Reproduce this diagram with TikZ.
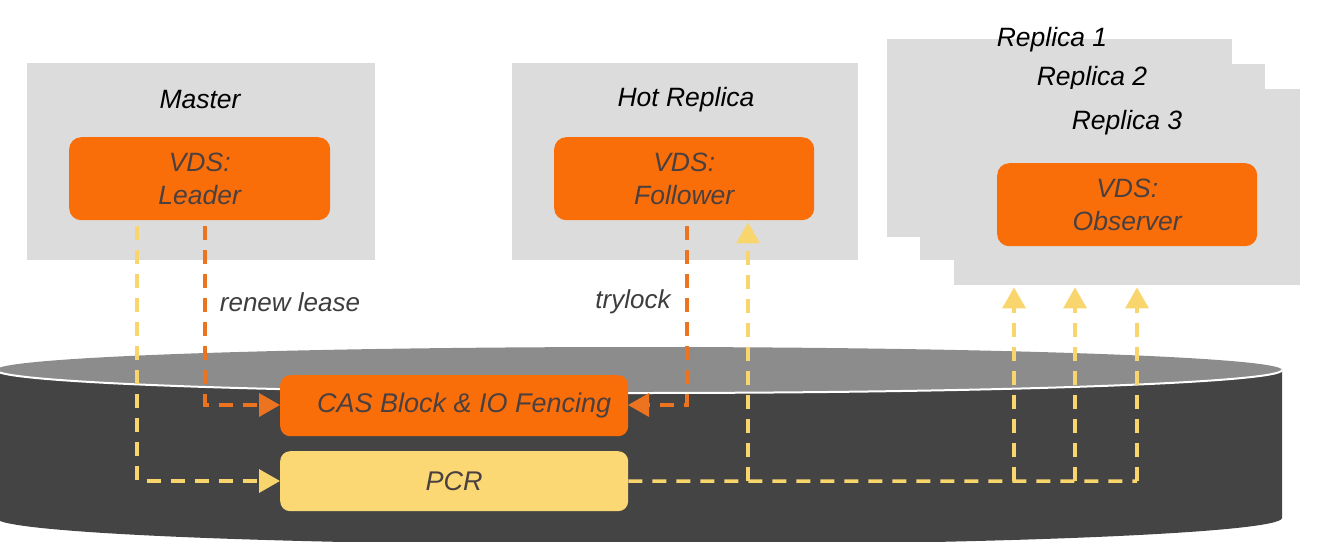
\documentclass[tikz,border=0pt]{standalone}
\usepackage{fontspec}
\setmainfont{Liberation Sans}
\usetikzlibrary{arrows.meta,calc}
\definecolor{boxgray}{HTML}{DCDCDC}
\definecolor{vdsorange}{HTML}{FA6E0A}
\definecolor{lineorange}{HTML}{EC7420}
\definecolor{pcryellow}{HTML}{FCD874}
\definecolor{lineyellow}{HTML}{F9D56E}
\definecolor{cyldark}{HTML}{444444}
\definecolor{cyltop}{HTML}{8C8C8C}
\definecolor{vdstext}{HTML}{4A4040}
\definecolor{lbltext}{HTML}{3D3D3D}
\begin{document}
\begin{tikzpicture}[x=1pt,y=-1pt,
  host/.style={fill=boxgray, draw=none, anchor=north west, inner sep=0pt},
  hostlabel/.style={font=\fontsize{26.5}{30}\selectfont\itshape, text=black},
  vds/.style={fill=vdsorange, draw=none, rounded corners=12pt, anchor=north west,
    inner sep=0pt, align=center, text=vdstext, font=\fontsize{26.5}{33}\selectfont\itshape},
  disk/.style={draw=none, rounded corners=10pt, anchor=north west, inner sep=0pt,
    text=vdstext, font=\fontsize{27}{30}\selectfont\itshape},
  yline/.style={draw=lineyellow, line width=3.5pt, dash pattern=on 14pt off 10pt},
  oline/.style={draw=lineorange, line width=3.5pt, dash pattern=on 14pt off 10pt},
  tip/.style={-{Triangle[length=21pt,width=23pt]}},
  edgelbl/.style={font=\fontsize{26}{30}\selectfont\itshape, text=lbltext}
]
\useasboundingbox (0,0) rectangle (1328,541);
% cylinder
\begin{scope}
\clip (0,0) rectangle (1328,541);
\fill[cyldark] (-4,370) -- (-4,518) arc[start angle=180, end angle=0, x radius=643, y radius=27] -- (1282,370) -- cycle;
\fill[cyltop] (639,370) ellipse[x radius=643, y radius=23];
\draw[white, line width=2pt] (-4,370) arc[start angle=180, end angle=0, x radius=643, y radius=23];
\end{scope}
% hosts
\node[host, minimum width=348pt, minimum height=197pt] (master) at (27,63) {};
\node[hostlabel] (masterlbl) at (200,100) {Master};
\node[vds, minimum width=261pt, minimum height=83pt] (leader) at (69,137) {VDS:\\Leader};
\node[host, minimum width=346pt, minimum height=197pt] (hot) at (512,63) {};
\node[hostlabel] (hotlbl) at (686,100) {Hot Replica};
\node[vds, minimum width=260pt, minimum height=83pt] (follower) at (554,137) {VDS:\\Follower};
\node[host, minimum width=345pt, minimum height=198pt] (rep1) at (887,39) {};
\node[hostlabel] (rep1lbl) at (1052,40) {Replica 1};
\node[host, minimum width=345pt, minimum height=196pt] (rep2) at (920,64) {};
\node[hostlabel] (rep2lbl) at (1092,79) {Replica 2};
\node[host, minimum width=346pt, minimum height=196pt] (rep3) at (954,89) {};
\node[hostlabel] (rep3lbl) at (1127,123) {Replica 3};
\node[vds, minimum width=260pt, minimum height=83pt] (observer) at (997,163) {VDS:\\Observer};
% connectors
\draw[yline, tip] ([xshift=-62.5pt,yshift=-6pt]leader.south) |- (280,481);
\draw[oline, tip] ([xshift=5.5pt,yshift=-6pt]leader.south) |- (280,405);
\draw[oline, tip] ([xshift=3pt,yshift=-6pt]follower.south) |- (628,405);
% disk boxes
\node[disk, fill=vdsorange, minimum width=348pt, minimum height=61pt] (cas) at (280,375) {\hspace*{20pt}CAS Block \& IO Fencing};
\node[disk, fill=pcryellow, minimum width=348pt, minimum height=60pt] (pcr) at (280,451) {PCR};
\coordinate (b0) at (748,481);
\coordinate (b1) at (1014,481);
\coordinate (b2) at (1075,481);
\coordinate (b3) at (1137,481);
\draw[yline] (pcr.east) -- (b3);
\draw[yline, tip] (b0) -- ([yshift=-2pt]b0 |- follower.south);
\draw[yline, tip] (b1) -- ([yshift=-2pt]b1 |- rep3.south);
\draw[yline, tip] (b2) -- ([yshift=-2pt]b2 |- rep3.south);
\draw[yline, tip] (b3) -- ([yshift=-2pt]b3 |- rep3.south);
% labels
\node[edgelbl] (renew) at (290,302) {renew lease};
\node[edgelbl] (trylock) at (633,302) {trylock};
\end{tikzpicture}
\end{document}
